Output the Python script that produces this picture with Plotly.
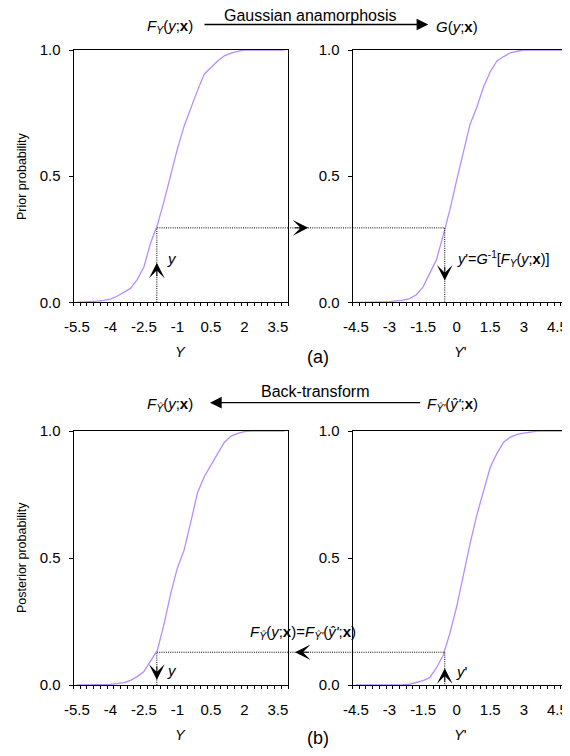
import numpy as np
import plotly.graph_objects as go

# ---------------- data ----------------
Y_CATS = [-5.5, -5.2, -4.9, -4.6, -4.3, -4.0, -3.7, -3.4, -3.1, -2.8, -2.5, -2.2,
          -1.9, -1.6, -1.3, -1.0, -0.7, -0.4, -0.1, 0.2, 0.5, 0.8, 1.1, 1.4,
          1.7, 2.0, 2.3, 2.6, 2.9, 3.2, 3.5, 3.8]
YP_CATS = [-4.5, -4.2, -3.9, -3.6, -3.3, -3.0, -2.7, -2.4, -2.1, -1.8, -1.5, -1.2,
           -0.9, -0.6, -0.3, 0.0, 0.3, 0.6, 0.9, 1.2, 1.5, 1.8, 2.1, 2.4,
           2.7, 3.0, 3.3, 3.6, 3.9, 4.2, 4.5, 4.8]

prior_FY = [0.0, 0.001, 0.003, 0.005, 0.008, 0.013, 0.024, 0.038, 0.055, 0.09, 0.14, 0.235,
            0.305, 0.40, 0.505, 0.608, 0.698, 0.771, 0.84, 0.904, 0.931, 0.956, 0.977, 0.988,
            0.995, 1.0, 1.0, 1.0, 1.0, 1.0, 1.0, 1.0]
prior_G = [0.0, 0.0, 0.0, 0.001, 0.002, 0.003, 0.005, 0.009, 0.015, 0.03, 0.061, 0.112,
           0.169, 0.265, 0.367, 0.483, 0.60, 0.706, 0.773, 0.853, 0.914, 0.957, 0.974, 0.989,
           0.995, 1.0, 1.0, 1.0, 1.0, 1.0, 1.0, 1.0]
post_FY = [0.0, 0.0, 0.0, 0.0, 0.001, 0.002, 0.0055, 0.0095, 0.018, 0.033, 0.053, 0.095,
           0.136, 0.239, 0.36, 0.461, 0.531, 0.642, 0.757, 0.82, 0.868, 0.911, 0.955, 0.98,
           0.991, 0.998, 1.0, 1.0, 1.0, 1.0, 1.0, 1.0]
post_FYp = [0.0, 0.0, 0.0, 0.0, 0.0, 0.0, 0.0, 0.001, 0.003, 0.0085, 0.017, 0.029,
            0.068, 0.117, 0.204, 0.308, 0.44, 0.557, 0.669, 0.763, 0.857, 0.912, 0.956, 0.976,
            0.987, 0.992, 0.997, 1.0, 1.0, 1.0, 1.0, 1.0]

Y_TICKS = [-5.5, -4, -2.5, -1, 0.5, 2, 3.5]
YP_TICKS = [-4.5, -3, -1.5, 0, 1.5, 3, 4.5]
PROB_TICKS = [0.0, 0.5, 1.0]
PROB_MINOR = [0.0, 0.1, 0.2, 0.3, 0.4, 0.5, 0.6, 0.7, 0.8, 0.9, 1.0]

y_obs = -1.92      # observed y
y_prime = -0.53    # transformed y'
p_prior = 0.295    # F_Y(y;x)
p_post = 0.129     # posterior probability

# ---------------- layout helpers ----------------
# the page body has an 8px margin, so the figure is drawn 8px in from the window corner
OFF = 8
W, H = 570 - OFF, 756 - 2 * OFF
def px(x):
    return (x - OFF) / W
def py(y):
    return 1 - (y - OFF) / H

STEP = 0.3
XL = [Y_CATS[0] - STEP / 2, Y_CATS[-1] + STEP / 2]
XR = [YP_CATS[0] - STEP / 2, YP_CATS[-1] + STEP / 2]
BND_L = list(np.round(np.arange(XL[0], XL[1] + 1e-9, STEP), 3))
BND_R = list(np.round(np.arange(XR[0], XR[1] + 1e-9, STEP), 3))

FONT = "Liberation Sans, Arial, sans-serif"
CURVE = "#b88cff"
TICKFONT = dict(family=FONT, size=15, color="black")

panels = [
    (1, (73.5, 288), (50, 302.3), XL, Y_CATS, prior_FY, Y_TICKS, BND_L),
    (2, (352.5, 567.5), (50, 302.3), XR, YP_CATS, prior_G, YP_TICKS, BND_R),
    (3, (73.5, 288), (431, 685), XL, Y_CATS, post_FY, Y_TICKS, BND_L),
    (4, (352.5, 567.5), (431, 685), XR, YP_CATS, post_FYp, YP_TICKS, BND_R),
]

fig = go.Figure()
layout = dict(
    width=W, height=H, margin=dict(l=0, r=0, t=0, b=0, autoexpand=False),
    paper_bgcolor="white", plot_bgcolor="white", showlegend=False,
    font=dict(family=FONT, color="black"),
)

for n, (x0, x1), (ytop, ybot), xr, cats, vals, ticks, bnd in panels:
    sfx = "" if n == 1 else str(n)
    xa, ya = "x" + sfx, "y" + sfx
    fig.add_trace(go.Scatter(x=cats, y=vals, mode="lines", xaxis=xa, yaxis=ya,
                             line=dict(color=CURVE, width=1.3), hoverinfo="skip"))
    layout["xaxis" + sfx] = dict(
        domain=[px(x0), px(x1)], range=xr, anchor=ya, automargin=False,
        tickmode="array", tickvals=ticks, ticktext=[f"{t:g}" for t in ticks],
        ticks="", tickfont=TICKFONT, ticklabelstandoff=11,
        showline=True, linecolor="black", linewidth=1, mirror=True,
        showgrid=False, zeroline=False,
        minor=dict(tickmode="array", tickvals=bnd, ticks="outside", ticklen=3,
                   tickcolor="black", tickwidth=1, showgrid=False),
    )
    layout["yaxis" + sfx] = dict(
        domain=[py(ybot), py(ytop)], range=[0, 1], anchor=xa, automargin=False,
        tickmode="array", tickvals=PROB_TICKS, ticktext=[f"{t:.1f}" for t in PROB_TICKS],
        ticks="outside", ticklen=4, tickcolor="black", tickwidth=1,
        tickfont=TICKFONT, ticklabelstandoff=5,
        showline=True, linecolor="black", linewidth=1, mirror=True,
        showgrid=False, zeroline=False,
    )
    layout["xaxis" + str(n + 4)] = dict(
        overlaying=xa, anchor=ya, side="bottom", range=xr, automargin=False,
        tickmode="array", tickvals=bnd, ticks="inside", ticklen=4,
        tickcolor="black", tickwidth=1, showticklabels=False,
        showline=False, showgrid=False, zeroline=False,
    )
    layout["yaxis" + str(n + 4)] = dict(
        overlaying=ya, anchor=xa, side="left", range=[0, 1], automargin=False,
        tickmode="array", tickvals=PROB_MINOR, ticks="inside", ticklen=4,
        tickcolor="black", tickwidth=1, showticklabels=False,
        showline=False, showgrid=False, zeroline=False,
    )

DOT = "1px,1.2px"
fig.add_trace(go.Scatter(x=[y_obs, y_obs, XL[1]], y=[0, p_prior, p_prior], mode="lines",
                         xaxis="x", yaxis="y", line=dict(color="black", width=1, dash=DOT),
                         hoverinfo="skip"))
fig.add_trace(go.Scatter(x=[XR[0], y_prime, y_prime], y=[p_prior, p_prior, 0], mode="lines",
                         xaxis="x2", yaxis="y2", line=dict(color="black", width=1, dash=DOT),
                         hoverinfo="skip"))
fig.add_trace(go.Scatter(x=[y_obs, y_obs, XL[1]], y=[0, p_post, p_post], mode="lines",
                         xaxis="x3", yaxis="y3", line=dict(color="black", width=1, dash=DOT),
                         hoverinfo="skip"))
fig.add_trace(go.Scatter(x=[XR[0], y_prime, y_prime], y=[p_post, p_post, 0], mode="lines",
                         xaxis="x4", yaxis="y4", line=dict(color="black", width=1, dash=DOT),
                         hoverinfo="skip"))

shapes = [
    dict(type="line", xref="paper", yref="y", x0=px(288), x1=px(352.5), y0=p_prior, y1=p_prior,
         line=dict(color="black", width=1, dash=DOT)),
    dict(type="line", xref="paper", yref="y3", x0=px(288), x1=px(352.5), y0=p_post, y1=p_post,
         line=dict(color="black", width=1, dash=DOT)),
]

anns = []
def text(x, y, t, size, xanchor="center", yanchor="middle", angle=0):
    anns.append(dict(xref="paper", yref="paper", x=px(x), y=py(y), text=t, showarrow=False,
                     xanchor=xanchor, yanchor=yanchor, textangle=angle, borderpad=0,
                     font=dict(family=FONT, size=size, color="black")))

def head(xref, yref, x, y, ax, ay):
    anns.append(dict(xref=xref, yref=yref, x=x, y=y, ax=ax, ay=ay, text="",
                     showarrow=True, arrowhead=3, arrowsize=2.6, arrowwidth=1,
                     arrowcolor="black", standoff=0))

def big_arrow(xtip, ytip, xtail):
    anns.append(dict(xref="paper", yref="paper", x=px(xtip), y=py(ytip), ax=xtail - xtip, ay=0,
                     text="", showarrow=True, arrowhead=2, arrowsize=1.8, arrowwidth=1.3,
                     arrowcolor="black", standoff=0))

FY = "<i>F</i><sub><i>Y</i></sub>(<i>y</i>;<b>x</b>)"
GX = "<i>G</i>(<i>y</i>;<b>x</b>)"
FYH = "<i>F</i><sub><i>Ŷ</i></sub>(<i>y</i>;<b>x</b>)"
FYHP = "<i>F</i><sub><i>Ŷ'</i></sub>(<i>ŷ'</i>;<b>x</b>)"

text(310, 15, "Gaussian anamorphosis", 16)
text(170, 27, FY, 15)
text(457, 27, GX, 15)
big_arrow(428.3, 24.5, 203)
text(315, 391, "Back-transform", 16)
text(170, 404, FYH, 15)
text(452.5, 405, FYHP, 15)
big_arrow(210, 402.7, 421.7)

head("x", "y", y_obs, 0.157, 0, 15)
head("paper", "y", px(308.3), p_prior, -15, 0)
head("x2", "y2", y_prime, 0.086, 0, -15)
head("paper", "y3", px(295), p_post, 15, 0)
head("x3", "y3", y_obs, 0.02, 0, -15)
head("x4", "y4", y_prime, 0.066, 0, 15)

text(166, 259, "<i>y</i>", 15, xanchor="left")
text(456, 259, "<i>y</i>'=<i>G</i><sup>-1</sup>[" + FY + "]", 14.5, xanchor="left")
text(166, 670, "<i>y</i>", 15, xanchor="left")
text(455, 671, "<i>y</i>'", 15, xanchor="left")
text(302.5, 632, FYH + "=" + FYHP, 15)

text(180, 352, "<i>Y</i>", 14.5)
text(460, 352, "<i>Y</i>'", 14.5)
text(318, 357, "(a)", 18)
text(180, 735, "<i>Y</i>", 14.5)
text(460, 735, "<i>Y</i>'", 14.5)
text(318, 738, "(b)", 18)
text(22, 176, "Prior probability", 12.5, angle=-90)
text(22, 558, "Posterior probability", 12.5, angle=-90)

layout["shapes"] = shapes
layout["annotations"] = anns
fig.update_layout(**layout)
fig.write_html("out.html")
